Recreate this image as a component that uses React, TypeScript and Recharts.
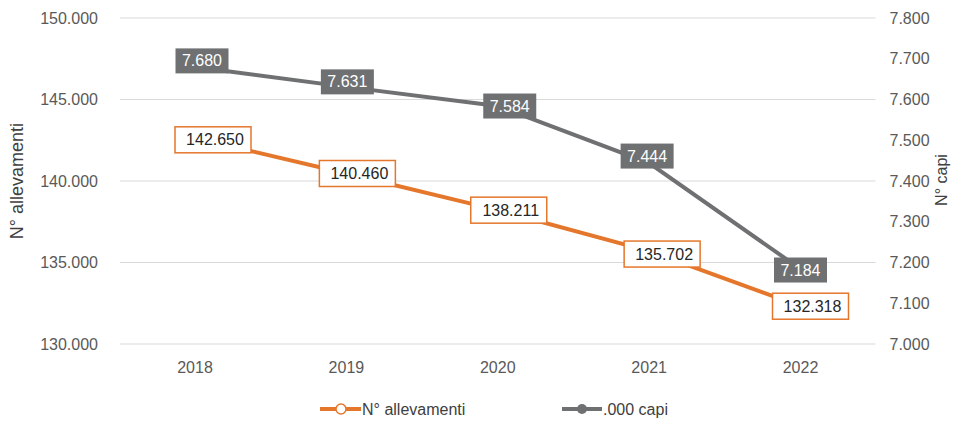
import React from 'react';
import { LineChart, Line, XAxis, YAxis, CartesianGrid, Legend, LabelList } from 'recharts';

const years = ['2018', '2019', '2020', '2021', '2022'];
const allevamenti = [142650, 140460, 138211, 135702, 132318];
const capi = [7680, 7631, 7584, 7444, 7184];
const leftTicks = [130000, 135000, 140000, 145000, 150000];
const rightTicks = [7000, 7100, 7200, 7300, 7400, 7500, 7600, 7700, 7800];

// label nudges (style only)
const orangeLabelDx = [18, 11, 11, 13, 10];
const orangeLabelDy = [2, 0, 0, 3, 0];
const grayLabelDx = [7, 1, 12, -2, 0];
const grayLabelDy = [-6, -5, 0, -7, 1];

const data = years.map((y, i) => ({ year: y, allevamenti: allevamenti[i], capi: capi[i] }));

const ORANGE = '#E5772C';
const GRAY = '#6E7072';
const FONT = '"Liberation Sans", Arial, sans-serif';

const fmt = (v: number) => String(v).replace(/\B(?=(\d{3})+(?!\d))/g, '.');

const OrangeLabel = (props: any) => {
  const { x, y, value, index } = props;
  const w = 76;
  const h = 26;
  const cx = x + orangeLabelDx[index];
  const cy = y + orangeLabelDy[index];
  return (
    <g>
      <rect x={cx - w / 2} y={cy - h / 2} width={w} height={h} fill="#ffffff" stroke={ORANGE} strokeWidth={1.5} />
      <text x={cx + 2} y={cy} textAnchor="middle" dominantBaseline="central" fontSize={16} fontFamily={FONT} fill="#262626">
        {fmt(value)}
      </text>
    </g>
  );
};

const GrayLabel = (props: any) => {
  const { x, y, value, index } = props;
  const w = 53;
  const h = 25;
  const cx = x + grayLabelDx[index];
  const cy = y + grayLabelDy[index];
  return (
    <g>
      <rect x={cx - w / 2} y={cy - h / 2} width={w} height={h} fill={GRAY} />
      <text x={cx} y={cy} textAnchor="middle" dominantBaseline="central" fontSize={16} fontFamily={FONT} fill="#ffffff">
        {fmt(value)}
      </text>
    </g>
  );
};

const LegendContent = () => (
  <div style={{ position: 'relative', height: 60, fontFamily: FONT, fontSize: 16, color: '#404040' }}>
    <svg width={962} height={60} style={{ position: 'absolute', left: 0, top: 0 }}>
      <line x1={320} x2={361} y1={35} y2={35} stroke={ORANGE} strokeWidth={4} />
      <circle cx={341} cy={35} r={5} fill="#ffffff" stroke={ORANGE} strokeWidth={1.5} />
      <text x={362} y={35} dominantBaseline="central" fontSize={16} fontFamily={FONT} fill="#404040">N° allevamenti</text>
      <line x1={562} x2={602} y1={35} y2={35} stroke={GRAY} strokeWidth={4} />
      <circle cx={582} cy={35} r={5} fill={GRAY} />
      <text x={603} y={35} dominantBaseline="central" fontSize={16} fontFamily={FONT} fill="#404040">.000 capi</text>
    </svg>
  </div>
);

export default function App() {
  return (
    <div style={{ position: 'absolute', left: 0, top: 0, width: 962, height: 434, background: '#fff' }}>
      <LineChart width={962} height={434} data={data} margin={{ top: 18, right: 10, bottom: 0, left: 0 }}>
        <CartesianGrid yAxisId="left" vertical={false} stroke="#D9D9D9" strokeWidth={1} />
        <XAxis
          dataKey="year"
          axisLine={false}
          tickLine={false}
          tickMargin={12}
          height={30}
          padding={{ left: 75, right: 75 }}
          tick={{ fontSize: 16, fontFamily: FONT, fill: '#595959' }}
        />
        <YAxis
          yAxisId="left"
          orientation="left"
          width={120}
          domain={[130000, 150000]}
          ticks={leftTicks}
          tickFormatter={fmt}
          axisLine={false}
          tickLine={false}
          tickMargin={16}
          tick={{ fontSize: 16, fontFamily: FONT, fill: '#595959' }}
          label={(p: any) => (
            <text
              x={17}
              y={181}
              transform="rotate(-90 17 181)"
              textAnchor="middle"
              dominantBaseline="central"
              fontSize={18}
              fontFamily={FONT}
              fill="#404040"
            >
              N° allevamenti
            </text>
          )}
        />
        <YAxis
          yAxisId="right"
          orientation="right"
          width={76.5}
          domain={[7000, 7800]}
          ticks={rightTicks}
          tickFormatter={fmt}
          axisLine={false}
          tickLine={false}
          tickMargin={8}
          tick={{ fontSize: 16, fontFamily: FONT, fill: '#595959' }}
          label={(p: any) => (
            <text
              x={941}
              y={180}
              transform="rotate(-90 941 180)"
              textAnchor="middle"
              dominantBaseline="central"
              fontSize={16}
              fontFamily={FONT}
              fill="#404040"
            >
              N° capi
            </text>
          )}
        />
        <Legend verticalAlign="bottom" height={60} content={<LegendContent />} wrapperStyle={{ left: 0, width: 962 }} />
        <Line
          yAxisId="left"
          type="linear"
          dataKey="allevamenti"
          name="N° allevamenti"
          stroke={ORANGE}
          strokeWidth={4}
          dot={false}
          isAnimationActive={false}
        >
          <LabelList dataKey="allevamenti" content={<OrangeLabel />} />
        </Line>
        <Line
          yAxisId="right"
          type="linear"
          dataKey="capi"
          name=".000 capi"
          stroke={GRAY}
          strokeWidth={4}
          dot={false}
          isAnimationActive={false}
        >
          <LabelList dataKey="capi" content={<GrayLabel />} />
        </Line>
      </LineChart>
    </div>
  );
}
